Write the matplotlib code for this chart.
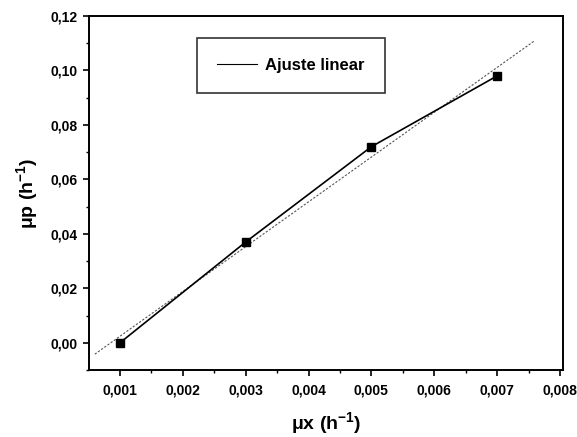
import matplotlib
matplotlib.use("Agg")
import matplotlib.pyplot as plt
import numpy as np
from matplotlib.ticker import FixedLocator, MultipleLocator

plt.rcParams['font.family'] = ['Liberation Sans', 'DejaVu Sans']
plt.rcParams['mathtext.default'] = 'regular'

mu_x = [0.001, 0.003, 0.005, 0.007]
mu_p = [0.0, 0.037, 0.072, 0.098]
fit_x_range = [0.0006, 0.0076]
x_ticks = [0.001, 0.002, 0.003, 0.004, 0.005, 0.006, 0.007, 0.008]
x_tick_labels = ["0,001", "0,002", "0,003", "0,004", "0,005", "0,006", "0,007", "0,008"]
y_ticks = [0.00, 0.02, 0.04, 0.06, 0.08, 0.10, 0.12]
y_tick_labels = ["0,00", "0,02", "0,04", "0,06", "0,08", "0,10", "0,12"]

fig = plt.figure(figsize=(5.77, 4.37), dpi=100)
ax = fig.add_axes([0.1542, 0.1533, 0.8215, 0.8101])

slope, intercept = np.polyfit(mu_x, mu_p, 1)
fx = np.array(fit_x_range)
ax.plot(fx, slope * fx + intercept, color='#555555', lw=0.8, ls=(0, (2, 1.5)),
        label='Ajuste linear', zorder=2)
ax.plot(mu_x, mu_p, color='black', lw=1.2, marker='s', ms=5.5, zorder=3,
        label='_nolegend_')

ax.set_xlim(0.000507, 0.008048)
ax.set_ylim(-0.01, 0.12)
ax.xaxis.set_major_locator(FixedLocator(x_ticks))
ax.set_xticklabels(x_tick_labels)
ax.yaxis.set_major_locator(FixedLocator(y_ticks))
ax.set_yticklabels(y_tick_labels)
ax.xaxis.set_minor_locator(MultipleLocator(0.0005))
ax.yaxis.set_minor_locator(MultipleLocator(0.01))

for lab in ax.get_xticklabels() + ax.get_yticklabels():
    lab.set_fontweight('bold')
    lab.set_fontsize(10)

ax.tick_params(which='major', direction='out', length=4, width=1.2, pad=4)
ax.tick_params(axis='x', which='major', pad=6)
ax.tick_params(which='minor', direction='out', length=2, width=1)
ax.tick_params(top=False, right=False)
for s in ax.spines.values():
    s.set_linewidth(1.4)

ax.set_xlabel("μx (h$^{-1}$)", fontsize=14, fontweight='bold', labelpad=9)
ax.set_ylabel("μp (h$^{-1}$)", fontsize=14, fontweight='bold', labelpad=8)

leg = ax.legend(loc='upper left', bbox_to_anchor=(0.228, 0.938), frameon=True,
                fancybox=False, edgecolor='black',
                prop={'weight': 'bold', 'size': 12}, handlelength=2.4,
                borderpad=1.2, handletextpad=0.5, borderaxespad=0)
leg.get_frame().set_linewidth(1.2)
leg.get_lines()[0].set_linestyle('-')
leg.get_lines()[0].set_color('black')

fig.savefig("out.png", dpi=100)
